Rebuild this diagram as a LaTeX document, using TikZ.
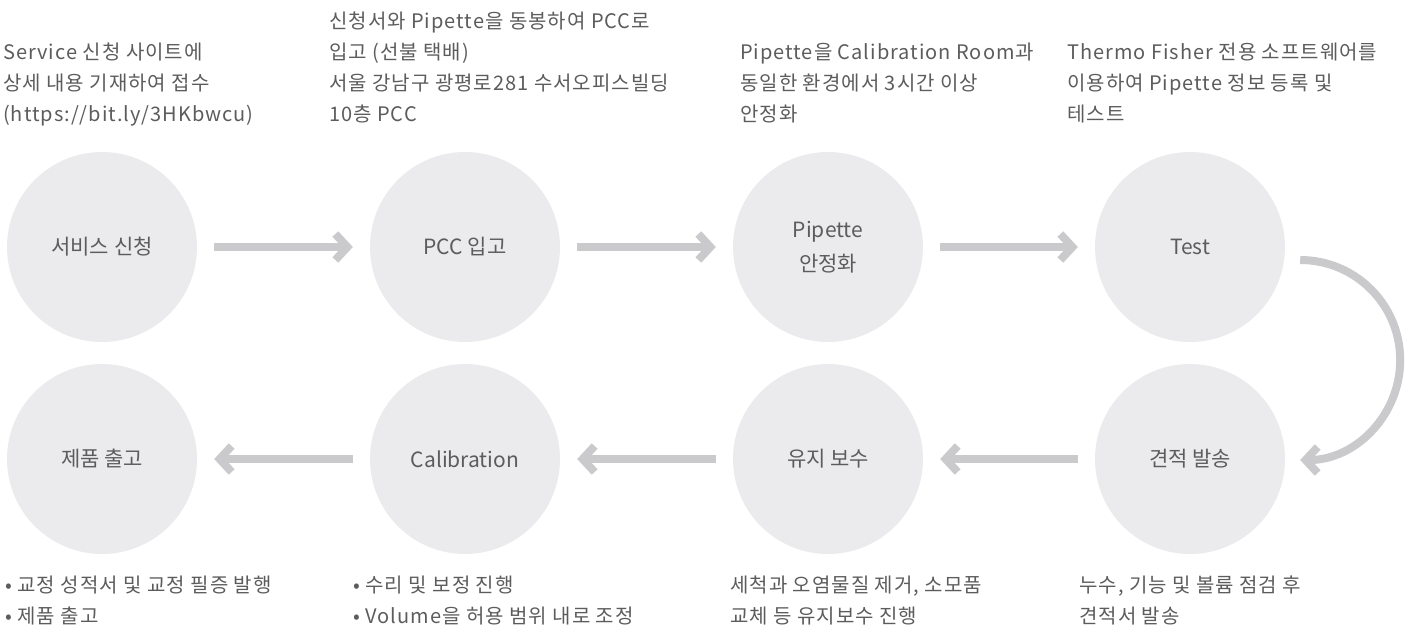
\documentclass[tikz,border=0pt]{standalone}
\usepackage{fontspec}
\setmainfont{Noto Sans CJK KR}
\newfontfamily\notefont{Noto Sans CJK KR}[LetterSpace=5]
\usetikzlibrary{arrows.meta}
\definecolor{stagefill}{HTML}{EBEBED}
\definecolor{flowgray}{HTML}{CACACC}
\definecolor{txtgray}{HTML}{5C5C5C}

\begin{document}
\begin{tikzpicture}[x=1pt,y=-1pt,
  stage/.style={circle,fill=stagefill,minimum size=190pt,inner sep=0pt,text=txtgray,align=center,font=\fontsize{21}{34}\selectfont},
  note/.style={anchor=north west,inner sep=0pt,text=txtgray,align=left,font=\notefont\fontsize{20}{31}\selectfont},
  flow/.style={draw=flowgray,line width=8pt,shorten <=17pt,shorten >=17pt,-{Straight Barb[length=12pt,width=26pt,line cap=butt,line join=miter]}}]
\useasboundingbox (0,0) rectangle (1419,632);
% top row
\node[stage] (s1) at (102,247) {서비스 신청};
\node[stage] (s2) at (465,247) {PCC 입고};
\node[stage] (s3) at (828,247) {Pipette\\안정화};
\node[stage] (s4) at (1190,247) {Test};
% bottom row
\node[stage] (r4) at (1190,459) {견적 발송};
\node[stage] (r3) at (828,459) {유지 보수};
\node[stage] (r2) at (465,459) {Calibration};
\node[stage] (r1) at (102,459) {제품 출고};
\draw[flow] (s1) -- (s2);
\draw[flow] (s2) -- (s3);
\draw[flow] (s3) -- (s4);
\draw[flow,shorten <=0pt,shorten >=0pt] ([xshift=15pt,yshift=-13pt]s4.east) arc[start angle=-90,end angle=90,radius=100];
\draw[flow] (r4) -- (r3);
\draw[flow] (r3) -- (r2);
\draw[flow] (r2) -- (r1);
% notes
\node[note] (n1) at (3,43) {Service 신청 사이트에\\상세 내용 기재하여 접수\\(https://bit.ly/3HKbwcu)};
\node[note] (n2) at (329,12) {신청서와 Pipette을 동봉하여 PCC로\\입고 (선불 택배)\\서울 강남구 광평로281 수서오피스빌딩\\10층 PCC};
\node[note] (n3) at (740,43) {Pipette을 Calibration Room과\\동일한 환경에서 3시간 이상\\안정화};
\node[note] (n4) at (1067,43) {Thermo Fisher 전용 소프트웨어를\\이용하여 Pipette 정보 등록 및\\테스트};
\node[note] (m1) at (5,576) {• 교정 성적서 및 교정 필증 발행\\• 제품 출고};
\node[note] (m2) at (353,576) {• 수리 및 보정 진행\\• Volume을 허용 범위 내로 조정};
\node[note] (m3) at (730,576) {세척과 오염물질 제거, 소모품\\교체 등 유지보수 진행};
\node[note] (m4) at (1079,576) {누수, 기능 및 볼륨 점검 후\\견적서 발송};
\end{tikzpicture}
\end{document}
